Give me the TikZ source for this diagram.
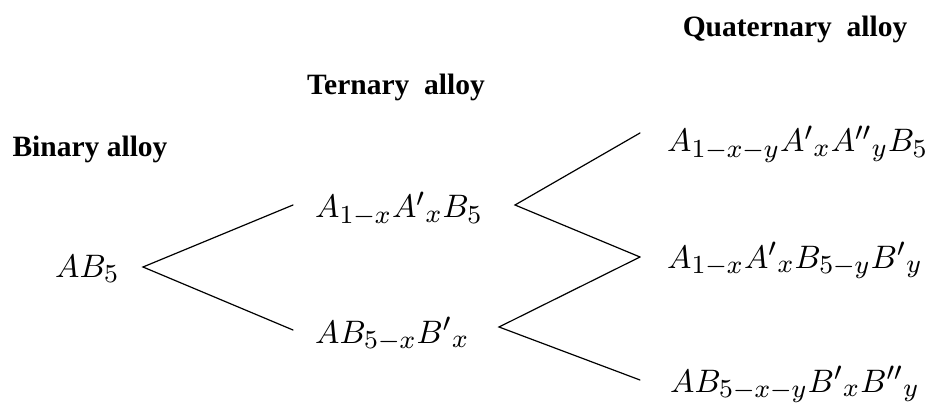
\documentclass[tikz,border=0pt]{standalone}
\usepackage{graphicx}
\usepackage{fontspec}
\setmainfont{Liberation Serif}
\DeclareMathSizes{10}{10}{8}{6}
\newcommand{\fml}[1]{\scalebox{3.25}{$#1$}}
\begin{document}
\begin{tikzpicture}[x=1pt,y=-1pt,
  title/.style={font=\bfseries\fontsize{29.5}{34}\selectfont, anchor=base, inner sep=0pt},
  formula/.style={font=\fontsize{10}{12}\selectfont, anchor=base west, inner sep=0pt},
  link/.style={line width=1.2pt, line cap=round}]
\useasboundingbox (0,0) rectangle (952,403);
% titles
\node[title] (bin)  at (90,157) {Binary alloy};
\node[title] (ter)  at (396,95) {Ternary\ \ alloy};
\node[title] (quat) at (795,37) {Quaternary\ \ alloy};
% formulas
\node[formula] (ab5) at (55,277) {\fml{AB_5}};
\node[formula] (t1)  at (315,218) {\fml{A_{1-x}A'{}_xB_5}};
\node[formula] (t2)  at (315,343) {\fml{AB_{5-x}B'{}_x}};
\node[formula] (q1)  at (667,152) {\fml{A_{1-x-y}A'{}_xA''{}_yB_5}};
\node[formula] (q2)  at (667,268) {\fml{A_{1-x}A'{}_xB_{5-y}B'{}_y}};
\node[formula] (q3)  at (670,392) {\fml{AB_{5-x-y}B'{}_xB''{}_y}};
% connector points
\coordinate (v0) at (143,267);
\coordinate (e1) at (293,205);
\coordinate (e2) at (293,330);
\coordinate (v1) at (515,205);
\coordinate (v2) at (499,327);
\coordinate (f1) at (640,133);
\coordinate (f2) at (640,257);
\coordinate (f3) at (640,380);
\draw[link] (e1) -- (v0) -- (e2);
\draw[link] (f1) -- (v1) -- (f2);
\draw[link] (f2) -- (v2) -- (f3);
\end{tikzpicture}
\end{document}
